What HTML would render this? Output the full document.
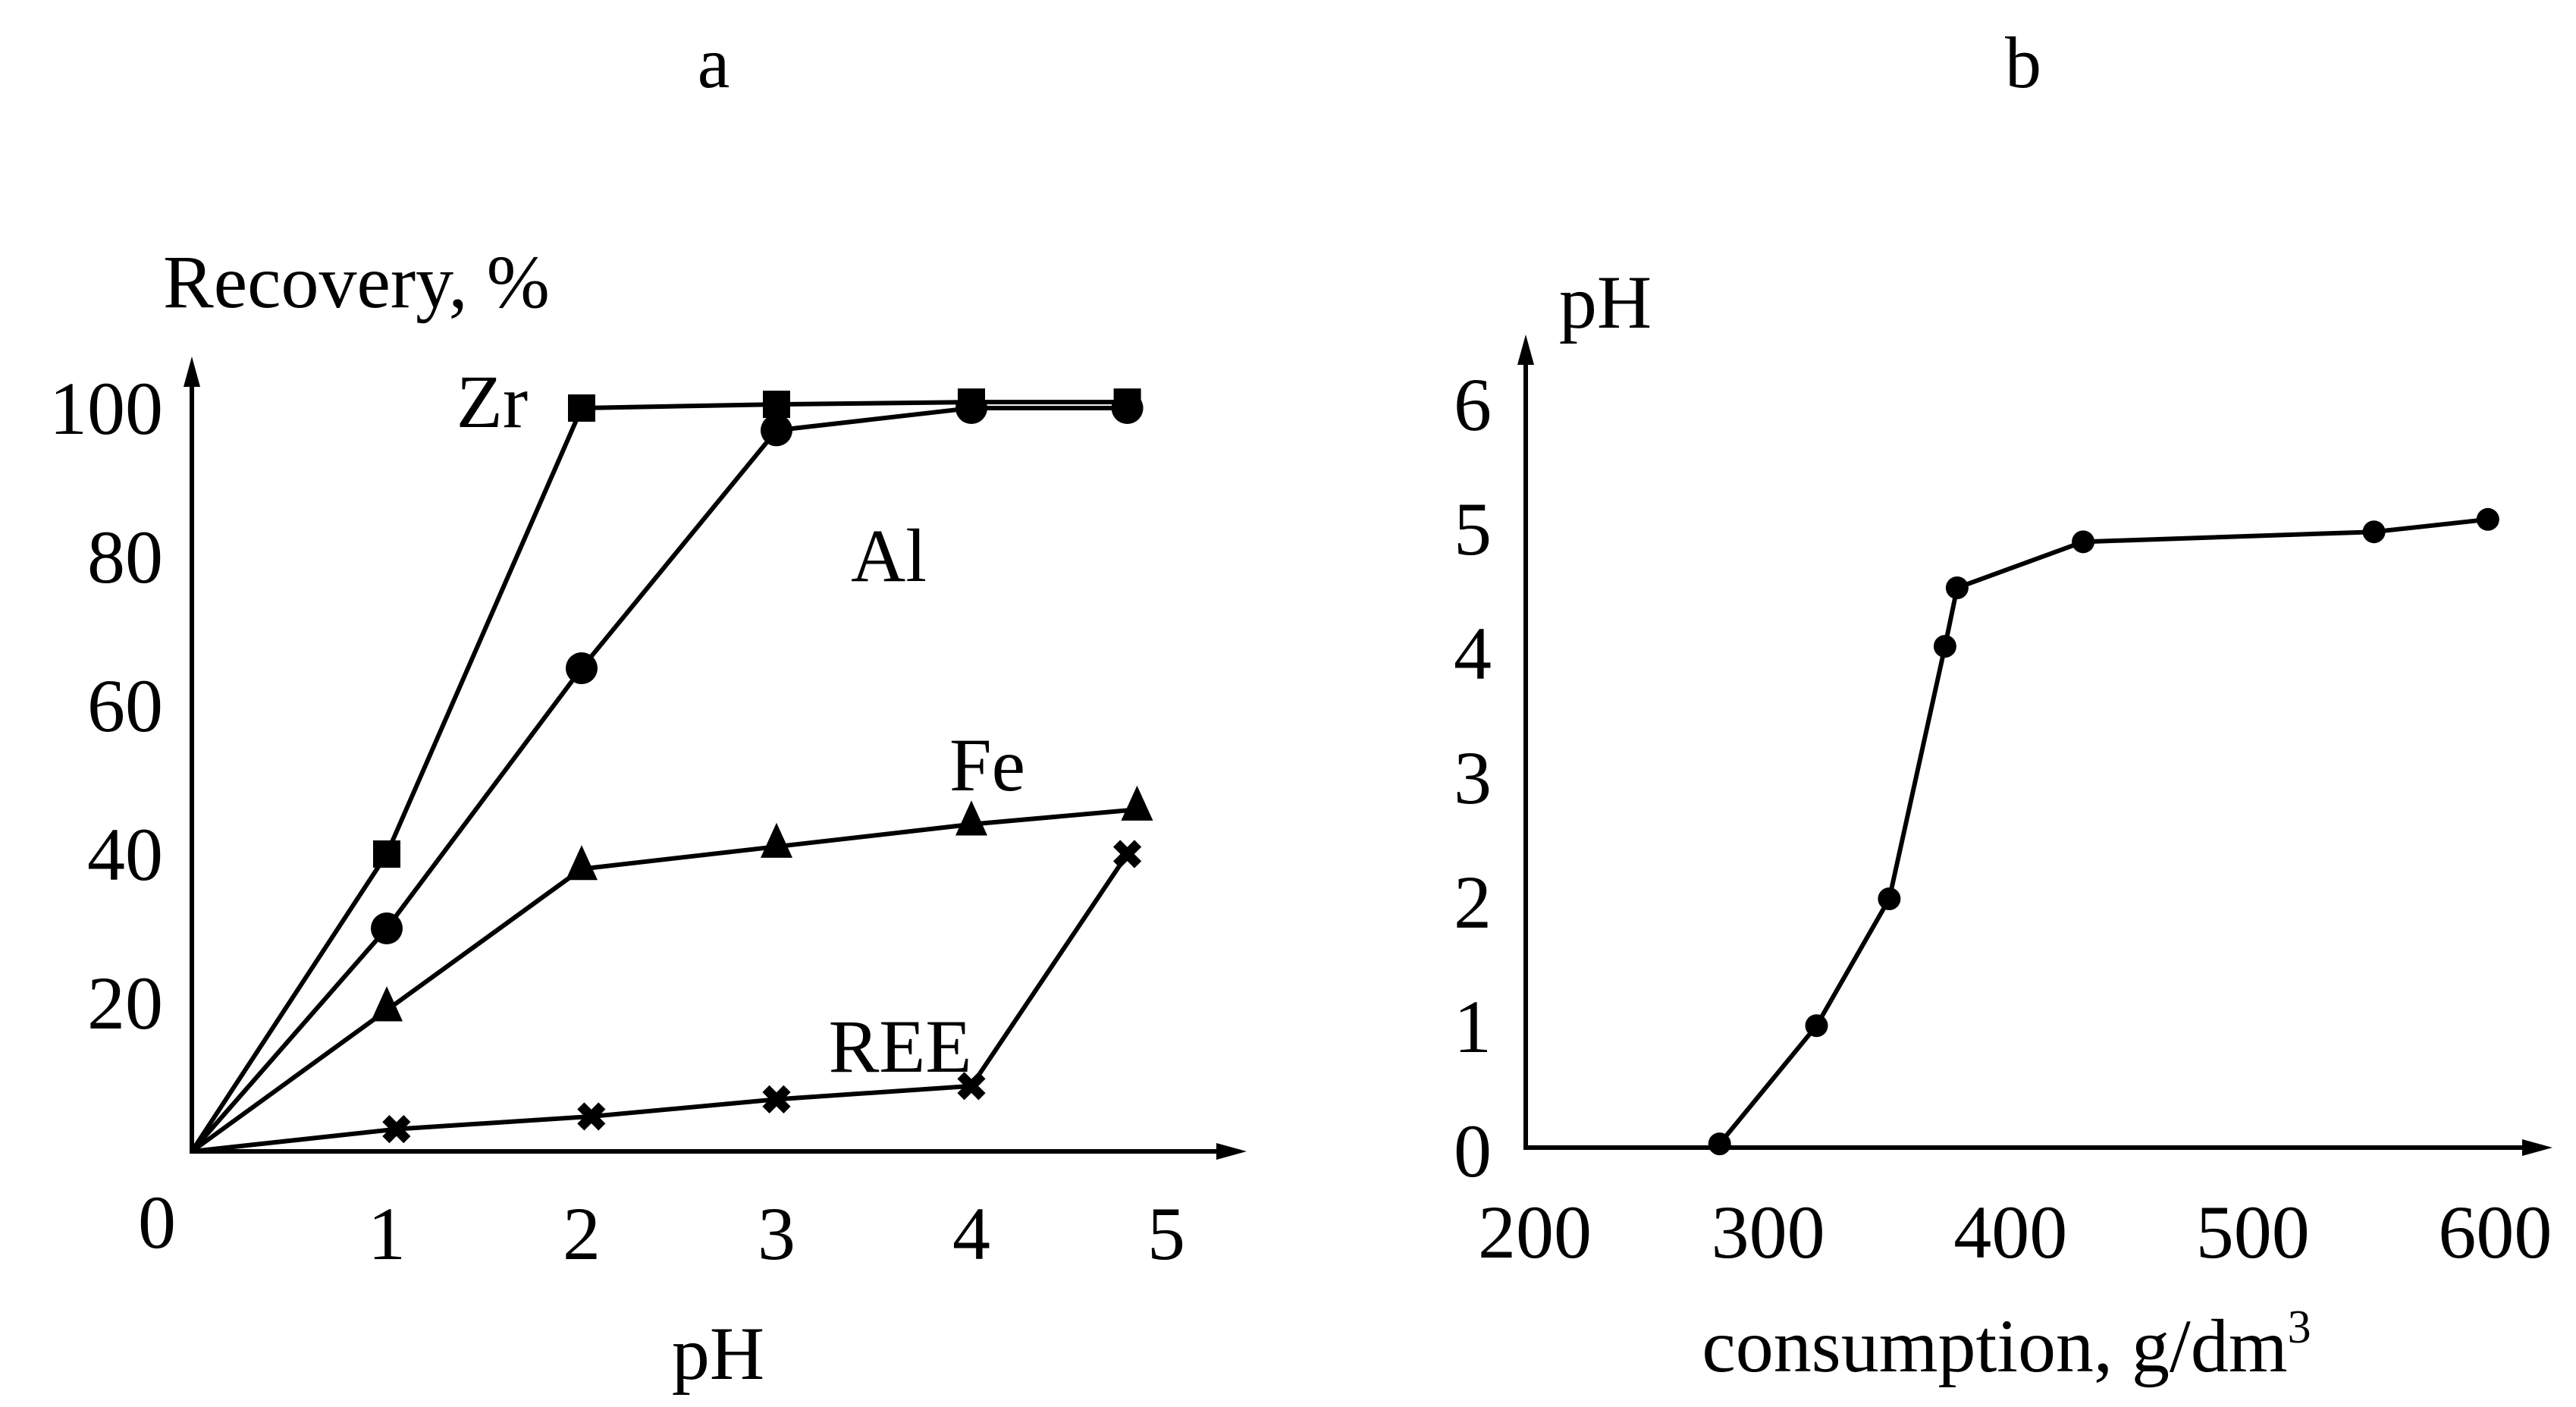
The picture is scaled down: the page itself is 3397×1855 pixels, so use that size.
<!DOCTYPE html>
<html><head><meta charset="utf-8"><style>
html,body{margin:0;padding:0;background:#fff;}
svg{display:block;}
text{font-family:"Liberation Serif",serif;fill:#000;}
</style></head><body>
<svg id="fig" width="3397" height="1855" viewBox="0 0 3397 1855">
<text x="941" y="115" font-size="96" text-anchor="middle">a</text>
<text x="2668" y="115" font-size="96" text-anchor="middle">b</text>
<g id="chartA"></g>
<g id="chartB"></g>
</svg>
<script>
// Chart a data
const phA = [0, 1, 2, 3, 4, 4.8];
const zrVals = [0, 40, 100, 100.5, 100.8, 100.8];
const alVals = [0, 30, 65, 97, 100, 100];
const fePh = [0, 1, 2, 3, 4, 4.85];
const feVals = [0, 19, 38, 41, 44, 46];
const reePh = [0, 1.05, 2.05, 3, 4, 4.8];
const reeVals = [0, 3, 4.7, 7, 8.8, 40];
const yTicksA = [20, 40, 60, 80, 100];
const xTicksA = [1, 2, 3, 4, 5];
// Chart b data
const consumption = [280, 320, 350, 373, 378, 430, 550, 597];
const phB = [0.03, 0.98, 2.0, 4.03, 4.5, 4.87, 4.95, 5.05];
const yTicksB = [0, 1, 2, 3, 4, 5, 6];
const xTicksB = [200, 300, 400, 500, 600];

const NS = "http://www.w3.org/2000/svg";
const FS = 100;
function mk(tag, attrs, parent){const e=document.createElementNS(NS,tag);for(const k in attrs)e.setAttribute(k,attrs[k]);parent.appendChild(e);return e;}
function axis(g,x1,y1,x2,y2,name){
  const l=mk('line',{x1:x1,y1:y1,x2:x2,y2:y2,stroke:'#000','stroke-width':6},g);
  
  
  let p;
  if(x1===x2) p=mk('polygon',{points:`${x2},${y2-14} ${x2-11},${y2+26} ${x2+11},${y2+26}`},g);
  else p=mk('polygon',{points:`${x2+14},${y2} ${x2-26},${y2-11} ${x2-26},${y2+11}`},g);
  
  
}

// Axis functions A
const xA = v => 253 + 257*v;
const yA = v => 1518 - 9.8*v;
const gA = document.getElementById('chartA');
axis(gA,253,1521,253,484,'y-axis-a');
axis(gA,250,1518,1630,1518,'x-axis-a');
yTicksA.forEach(v=>{const t=mk('text',{x:215,y:yA(v)+34,'font-size':FS,'text-anchor':'end'},gA);t.textContent=v;

});
xTicksA.forEach(v=>{const t=mk('text',{x:xA(v),y:1660,'font-size':FS,'text-anchor':'middle'},gA);t.textContent=v;

});
let t0=mk('text',{x:207,y:1645,'font-size':FS,'text-anchor':'middle'},gA);t0.textContent='0';


let lb=mk('text',{x:215,y:405,'font-size':FS},gA);lb.textContent='Recovery, %';


lb=mk('text',{x:947,y:1818,'font-size':FS,'text-anchor':'middle'},gA);lb.textContent='pH';



function series(g, xs, ys, fx, fy, name, marker, size){
  const pts = xs.map((x,i)=>fx(x)+','+fy(ys[i])).join(' ');
  const pl = mk('polyline',{points:pts,fill:'none',stroke:'#000','stroke-width':6,'stroke-linejoin':'round'},g);
  
  
  xs.forEach((x,i)=>{ if(i===0 && g.id==='chartA') return;
    const cx=fx(x), cy=fy(ys[i]); let m;
    if(marker==='square') m=mk('rect',{x:cx-size/2,y:cy-size/2,width:size,height:size},g);
    else if(marker==='circle') m=mk('circle',{cx:cx,cy:cy,r:size},g);
    else if(marker==='triangle') m=mk('polygon',{points:`${cx},${cy-size*0.75} ${cx-size/2},${cy+size*0.35} ${cx+size/2},${cy+size*0.35}`},g);
    else m=mk('path',{d:`M${cx-size/2},${cy-size/2} L${cx+size/2},${cy+size/2} M${cx+size/2},${cy-size/2} L${cx-size/2},${cy+size/2}`,stroke:'#000','stroke-width':13},g);
    
    
  });
}
series(gA, phA, zrVals, xA, yA, 'zr', 'square', 36);
series(gA, phA, alVals, xA, yA, 'al', 'circle', 21);
series(gA, fePh, feVals, xA, yA, 'fe', 'triangle', 42);
series(gA, reePh, reeVals, xA, yA, 'ree', 'cross', 28);
[['Zr',649,529],['Al',1172,732],['Fe',1302,1008],['REE',1187,1379]].forEach(a=>{
  const t=mk('text',{x:a[1],y:a[2]+34,'font-size':FS,'text-anchor':'middle'},gA);t.textContent=a[0];
  
  
});

// Chart b
const xB = v => 2012 + (v-200)*3.196;
const yB = v => 1513 - 164*v;
const gB = document.getElementById('chartB');
axis(gB,2012,1516,2012,455,'y-axis-b');
axis(gB,2009,1513,3352,1513,'x-axis-b');
yTicksB.forEach(v=>{const t=mk('text',{x:1967,y:yB(v)+38,'font-size':FS,'text-anchor':'end'},gB);t.textContent=v;

});
xTicksB.forEach(v=>{const t=mk('text',{x:xB(v)+(v===200?12:0),y:1658,'font-size':FS,'text-anchor':'middle'},gB);t.textContent=v;

});
lb=mk('text',{x:2117,y:432,'font-size':FS,'text-anchor':'middle'},gB);lb.textContent='pH';


lb=mk('text',{x:2646,y:1808,'font-size':FS,'text-anchor':'middle'},gB);lb.innerHTML='consumption, g/dm<tspan font-size="62" dy="-38">3</tspan>';


series(gB, consumption, phB, xB, yB, 'ph-curve', 'circle', 15);
</script>
</body></html>
